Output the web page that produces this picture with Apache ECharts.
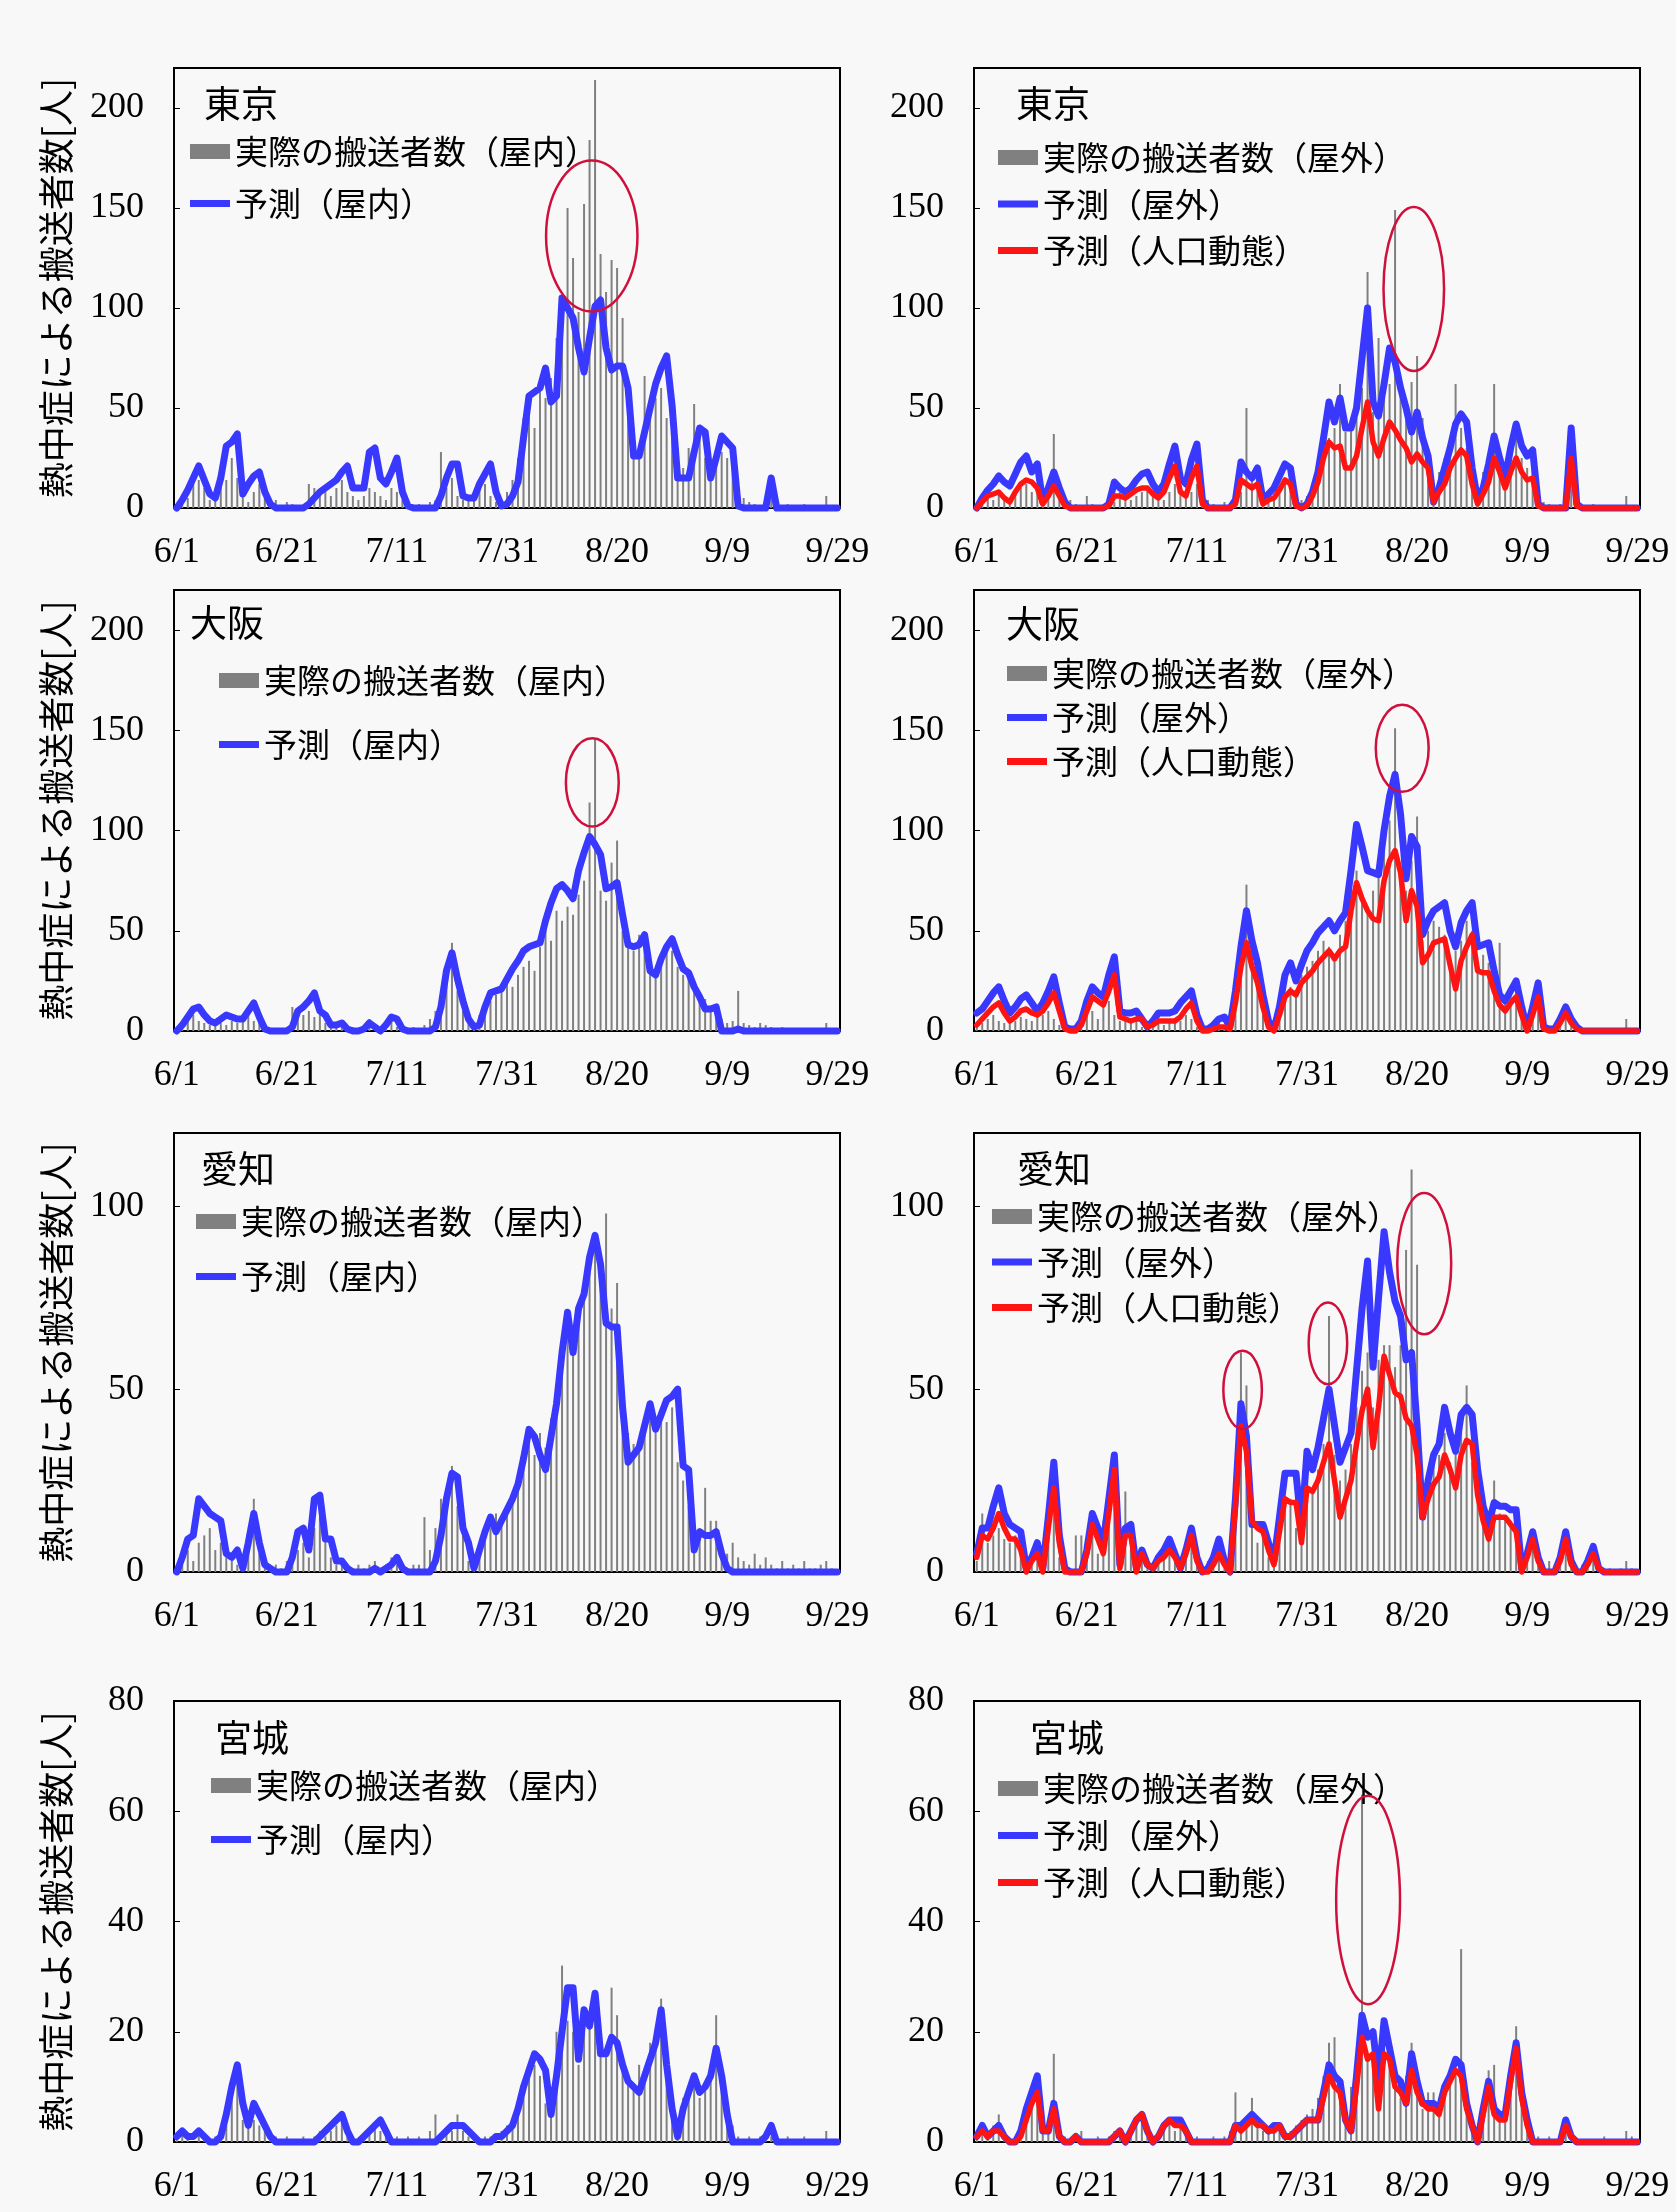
<!DOCTYPE html>
<html><head><meta charset="utf-8">
<script src="https://cdn.jsdelivr.net/npm/echarts@6.0.0/dist/echarts.min.js"></script>
<style>html,body{margin:0;padding:0;background:#f8f8f8}#c{width:1676px;height:2212px}</style>
</head><body><div id="c"></div>
<script>
// ---- categories (6/1 .. 9/29) ----
const monthDays = [[6,30],[7,31],[8,31],[9,29]];
const dates = [];
monthDays.forEach(([m,n]) => { for (let d = 1; d <= n; d++) dates.push(m + '/' + d); });

// ---- Tokyo ----
const tokyoInActual = [
0,2,5,12,14,10,4,6,12,14,
25,15,6,3,8,12,5,2,4,1,
3,2,1,1,12,10,6,9,6,10,
14,8,6,4,6,10,8,6,4,10,
8,4,2,1,2,1,3,4,28,10,
15,6,4,5,6,10,12,6,3,4,
8,14,25,45,50,40,62,55,65,85,
100,150,125,98,152,184,214,127,108,124,
120,95,55,40,30,66,48,55,60,45,
35,30,20,30,52,35,25,20,22,28,
25,20,10,5,3,2,1,4,6,3,
1,2,1,1,2,1,0,1,6,1,0];
const tokyoInPred = [
0,4,9,15,21,14,7,5,15,31,
33,37,7,12,16,18,8,2,0,0,
0,0,0,0,2,5,8,10,12,14,
18,21,10,10,10,28,30,15,12,18,
25,8,1,0,0,0,0,0,6,15,
22,22,6,5,5,12,17,22,8,1,
2,6,13,35,56,58,60,70,53,56,
105,100,95,80,68,85,101,104,80,69,
71,71,60,26,26,38,50,62,70,76,
51,15,15,15,28,40,38,15,25,36,
33,30,1,0,0,0,0,0,15,0,
0,0,0,0,0,0,0,0,0,0,0];
const tokyoOutActual = [
0,3,6,4,8,6,4,8,10,12,
8,9,3,5,37,12,6,4,2,1,
6,2,1,2,1,3,8,5,4,6,
8,9,6,5,4,8,12,10,6,8,
12,10,4,2,1,3,2,4,8,50,
14,12,5,4,6,8,12,15,8,4,
6,10,14,22,35,40,62,38,42,45,
60,118,48,85,55,62,149,58,50,63,
76,45,30,12,18,25,35,62,40,30,
22,10,18,25,62,20,18,30,35,25,
20,22,6,3,2,1,2,4,30,3,
1,1,2,1,1,0,1,1,6,1,1];
const tokyoOutPred = [
0,5,9,12,16,13,11,17,23,26,
18,22,3,10,18,10,3,0,0,0,
0,0,0,0,2,13,10,8,10,14,
17,18,12,8,12,22,31,15,12,24,
32,4,0,0,0,0,0,4,23,18,
15,20,4,7,10,16,22,20,2,0,
2,8,18,35,53,43,55,40,40,50,
75,100,53,46,62,80,73,60,50,38,
48,35,26,3,10,20,30,42,47,43,
20,4,10,22,36,25,15,30,42,31,
26,29,2,0,0,0,0,0,40,2,
0,0,0,0,0,0,0,0,0,0,0];
const tokyoOutPop = [
0,3,6,7,8,5,3,8,12,14,
13,10,2,6,11,6,1,0,0,0,
0,0,0,0,1,6,6,5,7,9,
10,10,7,5,8,15,21,8,6,15,
21,2,0,0,0,0,0,2,14,12,
10,12,2,4,5,9,14,12,1,0,
1,6,13,25,33,30,31,20,20,26,
40,53,33,26,35,43,39,34,30,23,
27,23,20,3,8,12,20,25,29,26,
12,2,7,13,25,18,10,18,25,18,
14,15,1,0,0,0,0,0,25,1,
0,0,0,0,0,0,0,0,0,0,0];

// ---- Osaka ----
const osakaInActual = [
0,3,6,8,5,4,3,5,4,3,
5,4,6,8,5,4,3,1,0,1,
2,12,6,8,10,7,9,4,3,2,
4,1,2,1,3,6,2,1,3,6,
2,1,1,2,1,3,6,10,15,30,
44,20,10,6,3,8,12,15,18,20,
25,22,28,32,35,30,42,50,45,60,
55,62,58,68,75,114,146,70,65,84,
95,50,45,40,48,42,35,30,38,44,
40,32,28,30,22,15,16,10,8,6,
4,5,20,4,3,2,4,3,2,1,
2,1,1,0,1,0,1,1,4,1,0];
const osakaInPred = [
0,3,7,11,12,8,5,4,6,8,
7,6,6,10,14,7,1,0,0,0,
0,2,10,12,15,19,10,8,3,3,
4,1,0,0,1,4,2,0,3,7,
6,1,0,0,0,0,0,2,12,30,
39,26,15,6,2,3,12,19,20,21,
26,31,35,40,42,43,44,55,64,71,
73,70,66,80,89,97,93,88,71,72,
74,58,43,42,43,48,30,28,36,42,
46,38,31,29,22,17,11,11,12,0,
0,0,1,0,0,0,0,0,0,0,
0,0,0,0,0,0,0,0,0,0,0];
const osakaOutActual = [
2,4,6,8,5,4,6,5,7,6,
5,7,8,10,6,3,2,1,2,4,
8,10,6,12,15,8,5,6,4,5,
2,3,4,5,3,4,6,5,8,6,
2,1,2,3,5,3,4,12,35,73,
40,22,8,3,6,12,18,22,20,28,
32,35,40,45,42,38,48,55,75,80,
68,62,70,78,90,105,151,80,70,85,
107,45,50,55,52,48,35,40,45,55,
50,35,38,34,22,44,15,18,16,10,
5,8,12,3,2,2,5,6,3,2,
1,1,0,1,0,1,0,1,6,1,0];
const osakaOutPred = [
9,11,15,19,22,15,9,12,16,18,
14,10,14,20,27,14,2,1,1,5,
15,22,19,17,28,37,10,9,9,10,
6,2,5,9,9,9,10,14,17,20,
8,1,1,3,6,7,2,20,42,60,
45,34,18,5,1,12,28,34,25,33,
40,44,49,52,55,50,55,59,80,103,
92,80,79,78,100,117,128,108,76,97,
92,48,55,60,62,64,50,42,54,60,
64,42,43,44,30,18,15,20,25,12,
1,12,24,2,1,1,6,12,6,2,
0,0,0,0,0,0,0,0,0,0,0];
const osakaOutPop = [
3,6,9,12,14,9,5,7,10,11,
9,8,10,14,19,10,1,0,0,3,
10,17,15,13,20,28,7,6,5,6,
6,2,3,5,5,5,5,7,11,14,
5,0,0,1,2,2,1,14,32,44,
32,24,12,2,0,8,17,20,18,24,
27,30,34,37,40,36,40,42,60,74,
66,60,56,55,75,85,90,79,55,70,
62,34,38,44,45,46,33,21,35,42,
48,30,29,29,20,13,10,14,17,8,
0,8,17,1,0,0,4,9,4,1,
0,0,0,0,0,0,0,0,0,0,0];

// ---- Aichi ----
const aichiInActual = [
0,2,6,3,8,10,12,6,8,4,
3,2,3,8,20,5,2,1,2,1,
3,5,6,8,4,12,15,9,4,2,
3,1,1,2,1,2,3,1,2,4,
2,1,1,2,2,15,6,12,20,22,
29,18,10,3,2,6,10,12,16,14,
18,20,25,30,35,32,38,34,42,50,
62,70,65,72,78,85,90,82,98,72,
79,48,38,35,36,42,45,38,41,41,
45,30,25,18,10,12,23,14,14,6,
5,8,4,3,2,5,2,4,2,1,
3,1,2,1,3,1,1,2,3,1,0];
const aichiInPred = [
0,4,9,10,20,18,16,15,14,5,
4,6,1,8,16,8,2,1,0,0,
0,4,11,12,6,20,21,9,9,3,
3,1,0,0,0,0,1,0,1,2,
4,1,0,0,0,0,0,3,10,20,
27,26,12,8,1,6,11,15,11,14,
17,20,24,31,39,37,32,28,37,46,
60,71,60,72,76,86,92,84,68,67,
67,45,30,32,34,40,46,39,43,47,
48,50,29,28,6,11,10,10,11,5,
1,0,0,0,0,0,0,0,0,0,
0,0,0,0,0,0,0,0,0,0,0];
const aichiOutActual = [
3,16,8,10,12,9,8,10,6,2,
4,6,3,10,26,4,2,1,10,10,
8,12,5,14,20,26,3,22,6,2,
5,2,1,4,6,8,3,2,5,10,
2,1,3,6,8,3,5,20,60,51,
14,8,10,4,6,14,18,20,12,18,
25,22,28,35,70,32,25,28,35,45,
55,60,45,58,62,62,56,62,88,110,
84,25,28,30,32,38,30,36,40,51,
30,22,14,12,25,16,15,14,8,4,
6,10,5,2,3,2,4,8,3,1,
2,4,5,2,1,1,0,1,3,1,0];
const aichiOutPred = [
5,12,12,18,23,16,13,12,11,1,
4,8,1,15,30,10,1,0,0,0,
6,16,12,8,20,32,2,12,13,1,
6,2,1,4,6,9,5,1,6,12,
4,0,1,4,9,3,0,20,46,37,
13,13,13,8,3,15,27,27,27,12,
33,28,34,42,50,40,30,34,38,55,
72,85,56,75,93,82,74,70,58,60,
40,15,25,32,35,45,38,33,43,45,
43,28,18,13,19,18,18,17,17,1,
5,11,4,0,0,0,4,11,3,0,
0,3,7,1,0,0,0,0,0,0,0];
const aichiOutPop = [
4,10,9,12,16,12,9,9,6,0,
3,5,0,12,23,8,0,0,0,0,
5,13,9,5,16,28,1,10,10,0,
5,2,1,3,4,6,4,1,5,10,
3,0,0,2,5,2,0,18,40,33,
14,12,11,6,2,11,20,19,19,8,
23,22,25,30,35,25,15,20,25,35,
44,50,34,45,59,54,49,48,42,40,
32,15,20,24,26,32,28,23,32,36,
35,21,14,9,15,15,15,13,11,0,
4,9,3,0,0,0,3,9,2,0,
0,2,5,1,0,0,0,0,0,0,0];

// ---- Miyagi ----
const miyagiInActual = [
1,2,1,0,2,1,0,1,2,3,
8,14,4,3,4,3,2,1,1,0,
1,0,0,1,0,1,2,1,2,3,
4,1,1,0,1,2,3,2,1,0,
1,0,1,0,1,0,2,5,1,2,
2,5,2,1,1,0,1,1,1,2,
3,4,6,8,12,14,12,7,10,20,
32,22,20,14,20,22,24,18,16,28,
23,15,12,10,14,12,18,20,26,12,
6,3,8,10,12,8,10,14,23,10,
6,3,1,0,1,0,1,2,1,0,
0,1,0,0,1,0,0,0,2,0,0];
const miyagiInPred = [
1,2,1,1,2,1,0,0,1,5,
10,14,7,3,7,5,3,1,0,0,
0,0,0,0,0,0,1,2,3,4,
5,2,0,0,1,2,3,4,2,0,
0,0,0,0,0,0,0,0,1,2,
3,3,3,2,1,0,0,0,1,1,
2,3,6,10,13,16,15,13,5,12,
20,28,28,15,24,21,27,16,16,19,
18,14,11,10,9,12,15,18,24,14,
6,1,6,9,12,9,10,12,17,12,
5,0,0,0,0,0,0,1,3,0,
0,0,0,0,0,0,0,0,0,0,0];
const miyagiOutActual = [
1,2,1,3,5,1,0,0,1,3,
8,9,3,4,16,2,1,0,1,2,
0,0,1,0,1,2,1,0,2,3,
5,1,1,2,3,4,2,3,1,0,
1,0,0,1,0,1,2,9,2,4,
8,3,2,2,3,2,1,2,3,4,
5,6,8,12,18,19,8,5,10,14,
63,16,15,10,18,14,12,8,12,18,
10,6,9,9,6,8,12,12,35,8,
3,2,8,13,14,5,8,12,21,8,
4,2,1,0,1,0,1,2,1,0,
0,0,0,0,1,0,0,0,2,1,0];
const miyagiOutPred = [
1,3,1,2,3,1,0,0,2,6,
9,12,2,2,7,1,0,0,1,0,
0,0,0,0,0,1,2,0,2,4,
5,2,0,1,3,4,4,4,2,0,
0,0,0,0,0,0,0,3,3,4,
5,4,3,2,3,3,1,1,2,3,
4,4,4,9,14,12,11,4,2,12,
23,19,20,11,22,17,12,11,7,16,
11,7,7,7,6,10,12,15,14,7,
3,0,6,11,6,5,5,12,18,9,
4,0,0,0,0,0,0,4,1,0,
0,0,0,0,0,0,0,0,0,0,0];
const miyagiOutPop = [
1,2,1,2,2,1,0,0,1,4,
7,9,2,2,6,1,0,0,1,0,
0,0,0,0,0,1,2,0,2,4,
5,2,0,1,3,4,3,3,2,0,
0,0,0,0,0,0,0,3,2,3,
4,3,3,2,2,3,1,1,2,3,
4,4,4,8,12,10,9,4,2,10,
19,15,16,6,16,15,10,9,7,13,
9,7,6,6,5,9,11,13,12,6,
3,0,5,10,5,4,4,11,17,8,
3,0,0,0,0,0,0,3,1,0,
0,0,0,0,0,0,0,0,0,0,0];

// ---- labels ----
const regionNames = ['東京','東京','大阪','大阪','愛知','愛知','宮城','宮城'];
const yAxisTitle = '熱中症による搬送者数[人]';
const yMaxByRow = [220, 220, 120, 80];
const yStepByRow = [50, 50, 50, 20];

// red annotation ellipses, in data units: panel, day index, value, half-width (days), half-height (value)
const ellipses = [
  {panel:0, day:75.4, value:136, rxDays:8.3, ryValue:37.7},
  {panel:1, day:79.4, value:109.5, rxDays:5.5, ryValue:41},
  {panel:2, day:75.5, value:124, rxDays:4.8, ryValue:22},
  {panel:3, day:77.3, value:141, rxDays:4.8, ryValue:21.7},
  {panel:5, day:48.3, value:49.8, rxDays:3.5, ryValue:10.7},
  {panel:5, day:63.8, value:62.5, rxDays:3.5, ryValue:11.2},
  {panel:5, day:81.3, value:84.3, rxDays:4.9, ryValue:19.3},
  {panel:7, day:71.1, value:43.9, rxDays:5.8, ryValue:18.9}
];

const panels = [
  {bars:tokyoInActual, pred:tokyoInPred, pop:null, kind:'屋内'},
  {bars:tokyoOutActual, pred:tokyoOutPred, pop:tokyoOutPop, kind:'屋外'},
  {bars:osakaInActual, pred:osakaInPred, pop:null, kind:'屋内'},
  {bars:osakaOutActual, pred:osakaOutPred, pop:osakaOutPop, kind:'屋外'},
  {bars:aichiInActual, pred:aichiInPred, pop:null, kind:'屋内'},
  {bars:aichiOutActual, pred:aichiOutPred, pop:aichiOutPop, kind:'屋外'},
  {bars:miyagiInActual, pred:miyagiInPred, pop:null, kind:'屋内'},
  {bars:miyagiOutActual, pred:miyagiOutPred, pop:miyagiOutPop, kind:'屋外'}
];
panels.forEach((p,k) => {
  [p.bars, p.pred, p.pop].forEach(a => { if (a && a.length !== dates.length) throw new Error('panel ' + k + ' length ' + a.length); });
});

// ---- layout ----
const colLeft = [174, 974];
const rowTop = [68, 590, 1133, 1701];
const rowH = [440, 441, 439, 441];
const plotW = 666;
const titlePos = [[204,85],[1016,85],[190,604],[1006,605],[201,1150],[1017,1150],[215,1719],[1030,1719]];
const legendPos = [[190,135,19],[998,141,13.5],[219,664,31],[1007,657,11],[196,1205,22],[992,1200,12.5],[211,1769,21],[998,1772,14]];

const BLUE = '#3838ff', RED = '#ff1414', GRAY = '#808080';
const serif = 'Liberation Serif';
const jp = 'Noto Sans CJK JP';
const lineIcon = 'path://M0 0 L40 0 L40 7 L0 7 Z';

const grid = [], xAxis = [], yAxis = [], series = [], legend = [], title = [];
panels.forEach((p, k) => {
  const row = Math.floor(k / 2), col = k % 2;
  const step = yStepByRow[row];
  grid.push({left: colLeft[col], top: rowTop[row], width: plotW, height: rowH[row],
    show: true, borderColor: '#000', borderWidth: 2, backgroundColor: 'transparent'});
  xAxis.push({type: 'category', gridIndex: k, data: dates, boundaryGap: true,
    axisLine: {lineStyle: {color: '#000', width: 2}}, axisTick: {show: false},
    axisLabel: {interval: 19, fontSize: 36, fontFamily: serif, color: '#000', margin: 27, hideOverlap: false}});
  yAxis.push({type: 'value', gridIndex: k, min: 0, max: yMaxByRow[row], interval: step,
    axisLine: {show: true, lineStyle: {color: '#000', width: 2}},
    axisTick: {show: true, inside: true, length: 6, lineStyle: {color: '#000', width: 1}},
    splitLine: {show: false},
    axisLabel: {fontSize: 36, fontFamily: serif, color: '#000', margin: 30,
      formatter: v => (v % step === 0 ? String(v) : '')},
    name: col === 0 ? yAxisTitle : '', nameLocation: 'middle', nameGap: 100, nameRotate: 90,
    nameTextStyle: {fontSize: 36, fontFamily: jp, color: '#000'}});
  const barName = '実際の搬送者数（' + p.kind + '）';
  const predName = '予測（' + p.kind + '）';
  series.push({type: 'bar', name: barName, xAxisIndex: k, yAxisIndex: k, data: p.bars,
    barWidth: 2, itemStyle: {color: GRAY}, z: 1, silent: true});
  series.push({type: 'line', name: predName, xAxisIndex: k, yAxisIndex: k, data: p.pred,
    symbol: 'none', clip: false, itemStyle: {color: BLUE},
    lineStyle: {color: BLUE, width: 7, cap: 'round', join: 'round'}, z: 3, silent: true});
  const names = [{name: barName, icon: 'rect'}, {name: predName, icon: lineIcon}];
  if (p.pop) {
    series.push({type: 'line', name: '予測（人口動態）', xAxisIndex: k, yAxisIndex: k, data: p.pop,
      symbol: 'none', clip: false, itemStyle: {color: RED},
      lineStyle: {color: RED, width: 5.5, cap: 'round', join: 'round'}, z: 4, silent: true});
    names.push({name: '予測（人口動態）', icon: lineIcon});
  }
  legend.push({left: legendPos[k][0], top: legendPos[k][1], itemGap: legendPos[k][2], orient: 'vertical',
    padding: 0, itemWidth: 40, itemHeight: 15, symbolKeepAspect: true, selectedMode: false, data: names,
    textStyle: {fontSize: 33, fontFamily: jp, color: '#000'}});
  title.push({text: regionNames[k], left: titlePos[k][0], top: titlePos[k][1], padding: 0,
    textStyle: {fontSize: 37, fontWeight: 'normal', fontFamily: jp, color: '#000'}});
});

const chart = echarts.init(document.getElementById('c'), null, {renderer: 'canvas'});
chart.setOption({backgroundColor: '#f8f8f8', animation: false, grid, xAxis, yAxis, series, legend, title});

// ellipses placed through the axes' own scales
const graphics = ellipses.map(e => {
  const f = {xAxisIndex: e.panel, yAxisIndex: e.panel};
  const p0 = chart.convertToPixel(f, [0, 0]);
  const p1 = chart.convertToPixel(f, [1, e.value]);
  const p2 = chart.convertToPixel(f, [1, e.value + e.ryValue]);
  const band = p1[0] - p0[0];
  return {type: 'ellipse', z: 100, silent: true,
    shape: {cx: p0[0] + e.day * band, cy: p1[1], rx: e.rxDays * band, ry: p1[1] - p2[1]},
    style: {fill: null, stroke: '#d0103c', lineWidth: 2.5}};
});
chart.setOption({graphic: graphics});
</script></body></html>
